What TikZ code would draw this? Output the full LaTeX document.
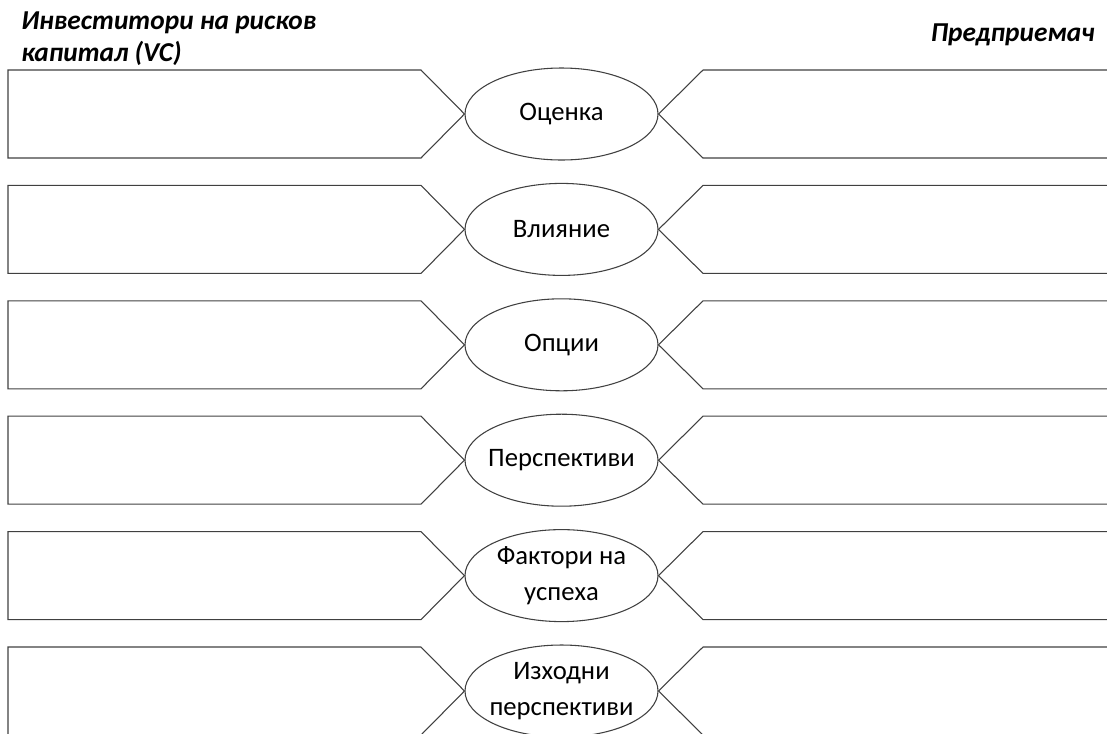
\documentclass[tikz,border=0pt]{standalone}
\usepackage{fontspec}
\setmainfont{Carlito}
\usetikzlibrary{shapes.geometric}
\begin{document}
\begin{tikzpicture}[x=0.75pt,y=-0.75pt,
  topic/.style={ellipse, draw=black!75, line width=0.8pt, fill=white,
    minimum width=144.75pt, minimum height=69pt, inner sep=0pt},
  topiclabel/.style={inner sep=0pt, align=center,
    font=\fontsize{20}{27}\selectfont},
  panel/.style={draw=black!75, line width=0.8pt, line join=miter},
  head/.style={font=\fontsize{20.5}{24}\selectfont\bfseries\itshape, inner sep=0pt}]
\useasboundingbox (0,0) rectangle (1107,733);
\begin{scope}
\clip (0,0) rectangle (1107,733);
\foreach \c/\t [count=\i] in {114/{Оценка}, 229.4/{Влияние}, 344.8/{Опции},
    460.2/{Перспективи}, 575.6/{Фактори на\\успеха}, 691/{Изходни\\перспективи}}{
  \node[topic] (e\i) at (561.5,\c) {};
  \node[topiclabel] (t\i) at (e\i.center) {\t};
  \coordinate (l\i a) at (8,\c-44);
  \coordinate (l\i b) at (421,\c-44);
  \coordinate (l\i c) at (421,\c+44);
  \coordinate (l\i d) at (8,\c+44);
  \coordinate (r\i a) at (1115,\c-44);
  \coordinate (r\i b) at (703,\c-44);
  \coordinate (r\i c) at (703,\c+44);
  \coordinate (r\i d) at (1115,\c+44);
  \draw[panel] (l\i a) -- (l\i b) -- (e\i.west) -- (l\i c) -- (l\i d) -- cycle;
  \draw[panel] (r\i a) -- (r\i b) -- (e\i.east) -- (r\i c) -- (r\i d);
}
\end{scope}
\node[head, anchor=base west] (vc1) at (21,29) {Инвеститори на рисков};
\node[head, anchor=base west] (vc2) at (21,61) {капитал (VC)};
\node[head, anchor=base east] (ent) at (1095,41) {Предприемач};
\end{tikzpicture}
\end{document}
